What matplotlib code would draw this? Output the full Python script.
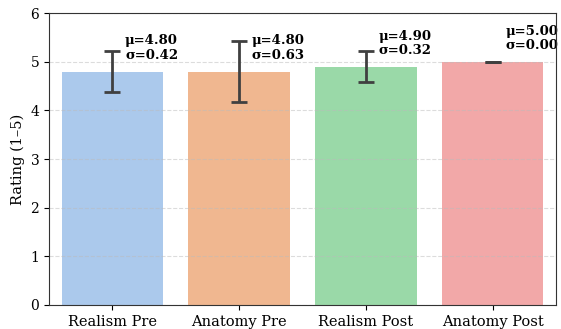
import matplotlib
matplotlib.use("Agg")
import matplotlib.pyplot as plt
import numpy as np

categories = ["Realism Pre", "Anatomy Pre", "Realism Post", "Anatomy Post"]
means = [4.80, 4.80, 4.90, 5.00]
stds = [0.42, 0.63, 0.32, 0.00]
colors = ["#abc9ec", "#f0b790", "#9ad9a8", "#f2a8a8"]

plt.rcParams['font.family'] = ['DejaVu Serif']

fig = plt.figure(figsize=(5.61, 3.29), dpi=100)
ax = fig.add_axes([0.0873, 0.073, 0.9037, 0.887])

x = np.arange(len(categories))
ax.bar(x, means, width=0.8, color=colors, zorder=2)
ax.errorbar(x, means, yerr=stds, fmt='none', ecolor='#404040', elinewidth=2,
            capsize=6, capthick=2, zorder=3)
for xi, m, s in zip(x, means, stds):
    ax.text(xi + 0.1, m + 0.48, f"μ={m:.2f}\nσ={s:.2f}", ha='left', va='center',
            fontsize=9.5, fontweight='bold', linespacing=1.15, zorder=4)

ax.set_xlim(-0.5, 3.5)
ax.set_ylim(0, 6)
ax.set_xticks(x)
ax.set_xticklabels(categories, fontsize=10.5)
ax.set_ylabel("Rating (1–5)", fontsize=10.5)
ax.tick_params(axis='y', labelsize=10)
ax.yaxis.grid(True, linestyle='--', color='#bbbbbb', alpha=0.5, linewidth=0.8)
ax.set_axisbelow(False)
for sp in ax.spines.values():
    sp.set_color('#333333')
    sp.set_zorder(10)

fig.savefig("out.png", dpi=100)
